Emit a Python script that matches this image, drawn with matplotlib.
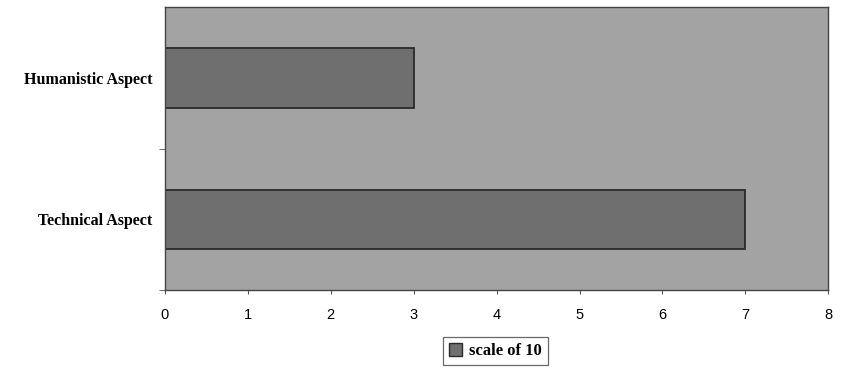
#!/usr/bin/env python3
"""Horizontal bar chart: humanistic vs technical aspect, scale of 10."""

import matplotlib

matplotlib.use("Agg")
import matplotlib.pyplot as plt
from matplotlib.patches import Patch

categories = ["Technical Aspect", "Humanistic Aspect"]
scores = [7, 3]
series_name = "scale of 10"
x_ticks = [0, 1, 2, 3, 4, 5, 6, 7, 8]

fig = plt.figure(figsize=(8.41, 3.70), dpi=100)
ax = fig.add_axes([0.196, 0.216, 0.789, 0.765])

bg = "#a3a3a3"
bar_col = "#6f6f6f"
ax.set_facecolor(bg)
ax.barh(range(len(categories)), scores, height=0.42, color=bar_col,
        edgecolor="#2a2a2a", linewidth=1.3, label=series_name)

ax.set_xlim(0, 8)
ax.set_ylim(-0.5, 1.5)
ax.set_xticks(x_ticks)
ax.set_xticklabels([str(t) for t in x_ticks], family="Liberation Sans", fontsize=10.5)
ax.set_yticks(range(len(categories)))
ax.set_yticklabels(categories, family="Liberation Serif", fontweight="bold", fontsize=11.5)
ax.tick_params(axis="y", length=0, pad=9)
# separators between categories only (no tick at the top edge)
ax.set_yticks([-0.5, 0.5], minor=True)
ax.tick_params(axis="y", which="minor", length=4, color="#555555")
ax.tick_params(axis="x", length=3, color="#555555", pad=10)
for s in ax.spines.values():
    s.set_color("#444444")
    s.set_linewidth(1.0)

handles = [Patch(facecolor=bar_col, edgecolor="#2a2a2a", label=series_name)]
leg = fig.legend(handles=handles, loc="center", bbox_to_anchor=(0.589, 0.051),
                 frameon=True, fancybox=False, edgecolor="#444444",
                 handlelength=0.8, handleheight=0.8, handletextpad=0.4,
                 borderpad=0.35,
                 prop={"family": "Liberation Serif", "weight": "bold", "size": 12})
leg.get_frame().set_linewidth(0.9)

fig.savefig("out.png", dpi=100)
